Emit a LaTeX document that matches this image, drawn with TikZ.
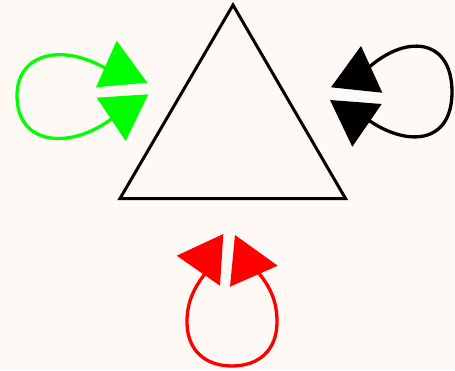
\documentclass[tikz,border=0pt]{standalone}
\usepackage{tikz}

\begin{document}
\begin{tikzpicture}[x=1pt, y=-1pt]
    \definecolor{bgcream}{RGB}{255,249,245}
    \colorlet{loopgreen}{green}
    \colorlet{loopblack}{black}
    \colorlet{loopred}{red}

    % background
    \fill[bgcream] (0,0) rectangle (455,370);
    \useasboundingbox (0,0) rectangle (455,370);

    % triangle
    \coordinate (top) at (233,5);
    \coordinate (bl) at (120,198.5);
    \coordinate (br) at (345.5,198.5);
    \draw[black, line width=3pt, line join=miter] (top) -- (bl) -- (br) -- cycle;

    % loops
    \draw[loopgreen, line width=3.3pt] (120,78) .. controls (70,40) and (16,50) .. (17,97)
        .. controls (18,150) and (80,150) .. (122,110);
    \draw[loopblack, line width=3.3pt] (358,78) .. controls (400,32) and (452,35) .. (452,92)
        .. controls (452,148) and (400,148) .. (358,112);
    \draw[loopred, line width=3.3pt] (212,265) .. controls (195,285) and (187,300) .. (187,322)
        .. controls (187,350) and (205,366) .. (232,366)
        .. controls (259,366) and (277,350) .. (277,322)
        .. controls (277,300) and (270,285) .. (252,265);

    % arrow heads
    \fill[loopgreen] (116.7,40.7) -- (96,87.3) -- (147.3,82.7) -- cycle;
    \fill[loopgreen] (96.7,97.7) -- (148.3,94.3) -- (125.7,141) -- cycle;
    \fill[loopblack] (361,46) -- (331,87.3) -- (382.3,92.7) -- cycle;
    \fill[loopblack] (330,100) -- (381.7,104) -- (352.3,146.7) -- cycle;
    \fill[loopred] (176.7,255.7) -- (223.3,234) -- (220,285.7) -- cycle;
    \fill[loopred] (235,235) -- (230,286.7) -- (277.7,265.7) -- cycle;
\end{tikzpicture}
\end{document}
